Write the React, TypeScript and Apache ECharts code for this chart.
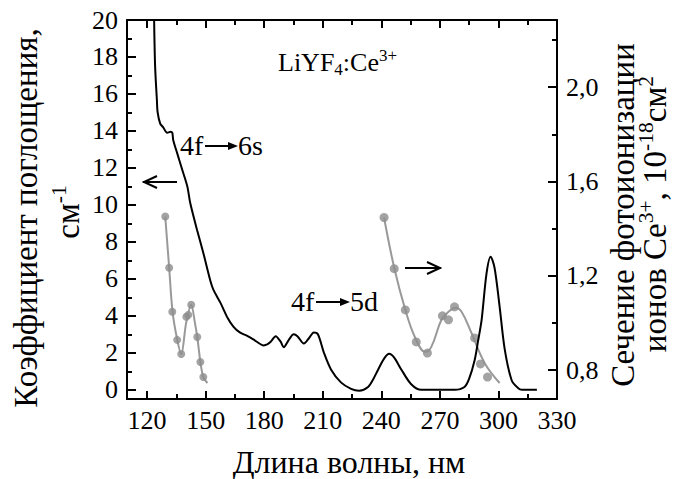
import React, { useEffect, useRef } from 'react';
import * as echarts from 'echarts';

// Absorption coefficient (left axis), cm^-1
const absWavelength = [
  123.6, 124.1, 125.0, 125.4, 126.7, 128.2, 130.3, 132.0, 132.9, 133.4, 135.4, 138.0, 140.6, 142.1,
  145.7, 148.8, 152.4, 154.0, 157.6, 161.2, 164.3, 167.5, 171.5, 175.5, 179.7, 181.5, 183.3, 185.9,
  188.4, 190.0, 192.6, 195.1, 197.0, 200.3, 203.0, 205.4, 207.5, 210.6, 214.2, 219.3, 224.5, 228.6,
  233.2, 236.0, 238.4, 241.5, 244.0, 246.5, 250.2, 255.3, 260.5, 270.0, 277.5, 282.6, 285.0, 287.8,
  289.5, 291.4, 293.9, 296.0, 298.0, 300.6, 303.2, 306.8, 310.0, 312.0, 319.7,
];
const absCoefficient = [
  20.0, 17.5, 15.7, 15.0, 14.4, 14.2, 13.9, 13.95, 13.9, 13.5, 12.8, 11.9, 11.0, 10.1,
  8.6, 7.4, 5.9, 5.4, 4.7, 3.9, 3.4, 3.1, 2.9, 2.65, 2.4, 2.45, 2.6, 2.9,
  2.6, 2.3, 2.7, 3.0, 2.9, 2.5, 2.8, 3.1, 3.0, 2.0, 1.1, 0.4, 0.05, -0.05,
  0.15, 0.6, 1.1, 1.7, 1.95, 1.75, 1.1, 0.3, 0.0, 0.0, 0.0, 0.15, 0.6, 1.6,
  2.6, 3.8, 6.3, 7.2, 6.6, 4.5, 2.2, 0.5, 0.1, 0.0, 0.0,
];

// Photoionization cross-section (right axis), 10^-18 cm^2
const vuvPointsWl = [129.3, 131.3, 132.9, 135.4, 137.5, 140.1, 141.1, 142.6, 145.7, 147.3, 148.8];
const vuvPointsSigma = [1.451, 1.234, 1.047, 0.928, 0.868, 1.026, 1.034, 1.077, 0.94, 0.834, 0.77];
const vuvFitWl = [129.3, 131.3, 133.0, 135.4, 137.5, 140.0, 142.6, 144.5, 145.7, 147.3, 148.8, 150.9];
const vuvFitSigma = [1.451, 1.234, 1.05, 0.93, 0.868, 1.0, 1.077, 1.0, 0.94, 0.834, 0.77, 0.745];

const uvPointsWl = [241.4, 246.6, 252.3, 257.9, 263.6, 271.3, 274.4, 277.5, 287.8, 290.8, 294.4];
const uvPointsSigma = [1.447, 1.23, 1.055, 0.919, 0.872, 1.03, 1.013, 1.068, 0.936, 0.826, 0.77];
const uvFitWl = [241.4, 246.6, 252.3, 257.4, 262.5, 265.6, 270.8, 274.4, 278.0, 281.1, 286.2, 292.9, 300.6];
const uvFitSigma = [1.447, 1.234, 1.055, 0.936, 0.877, 0.898, 1.013, 1.047, 1.064, 1.047, 0.957, 0.83, 0.745];

// Ticks
const xLabelTicks = [120, 150, 180, 210, 240, 270, 300, 330];
const xMinorTicks = [135, 165, 195, 225, 255, 285, 315];
const yLeftLabels = [0, 2, 4, 6, 8, 10, 12, 14, 16, 18, 20];
const yLeftMinor = [1, 3, 5, 7, 9, 11, 13, 15, 17, 19];
const yRightLabels = [0.8, 1.2, 1.6, 2.0];
const yRightMinor = [1.0, 1.4, 1.8, 2.2];

const X_MIN = 109.7;
const X_MAX = 330;
const YL_MIN = -0.5;
const YL_MAX = 20;
const YR_MIN = 0.677;
const YR_MAX = 2.285;

const FONT = 'Liberation Serif';
const BASE = 26; // render text at 26px and scale up where larger text is needed
const pair = (xs: number[], ys: number[]) => xs.map((x, i) => [x, ys[i]]);

const lineStyle = { color: '#000', width: 2 };

function xAxisDef(position: 'top' | 'bottom', ticks: number[], len: number, main: boolean, labels: boolean) {
  return {
    type: 'value',
    position,
    min: X_MIN,
    max: X_MAX,
    axisLine: { show: main, onZero: false, lineStyle },
    axisTick: { show: true, inside: true, length: len, customValues: ticks, lineStyle },
    axisLabel: labels
      ? { show: true, customValues: ticks, color: '#000', fontSize: BASE, fontFamily: FONT, margin: 8 }
      : { show: false },
    splitLine: { show: false },
  };
}

function yAxisDef(
  position: 'left' | 'right',
  min: number,
  max: number,
  ticks: number[],
  len: number,
  main: boolean,
  labels: boolean,
  fmt?: (v: number) => string
) {
  return {
    type: 'value',
    position,
    min,
    max,
    axisLine: { show: main, onZero: false, lineStyle },
    axisTick: { show: true, inside: true, length: len, customValues: ticks, lineStyle },
    axisLabel: labels
      ? {
          show: true,
          customValues: ticks,
          color: '#000',
          fontSize: BASE,
          fontFamily: FONT,
          margin: 9,
          formatter: fmt,
        }
      : { show: false },
    splitLine: { show: false },
  };
}

const txt = (size: number) => ({ fontSize: size, fontFamily: FONT, fill: '#000' });

// rich-text style at base size; plain parts {a|..}, superscripts {sup|..}, subscripts {sub|..}
const richStyle = (text: string, small: number, shift: number, extra: object = {}) => ({
  text,
  ...txt(BASE),
  ...extra,
  rich: {
    a: txt(BASE),
    sup: { ...txt(small), padding: [0, 0, shift, 0] },
    sub: { ...txt(small), padding: [shift, 0, 0, 0] },
  },
});

// graphic text element drawn at base size and scaled to the target size
const label = (x: number, y: number, size: number, style: object, rotation = 0) => ({
  type: 'text',
  x,
  y,
  rotation,
  scaleX: size / BASE,
  scaleY: size / BASE,
  style,
});

export default function App() {
  const ref = useRef<HTMLDivElement>(null);

  useEffect(() => {
    if (!ref.current) return;
    const chart = echarts.init(ref.current, undefined, { renderer: 'svg' });

    const arrowFilled = (x1: number, x2: number, y: number) => [
      { type: 'line', shape: { x1, y1: y, x2: x2 - 8, y2: y }, style: { stroke: '#000', lineWidth: 2 } },
      {
        type: 'polygon',
        shape: { points: [[x2 - 10, y - 4], [x2, y], [x2 - 10, y + 4]] },
        style: { fill: '#000' },
      },
    ];

    const center = { align: 'center', verticalAlign: 'middle' };
    const leftMid = { align: 'left', verticalAlign: 'middle' };
    const up = Math.PI / 2;

    chart.setOption({
      animation: false,
      backgroundColor: '#fff',
      textStyle: { fontFamily: FONT },
      grid: { left: 127, right: 126, top: 20, bottom: 80, containLabel: false },
      xAxis: [
        xAxisDef('bottom', xLabelTicks, 8, true, true),
        xAxisDef('bottom', xMinorTicks, 5, false, false),
        xAxisDef('top', xLabelTicks, 8, true, false),
        xAxisDef('top', xMinorTicks, 5, false, false),
      ],
      yAxis: [
        yAxisDef('left', YL_MIN, YL_MAX, yLeftLabels, 9, true, true, (v: number) => String(v)),
        yAxisDef('right', YR_MIN, YR_MAX, yRightLabels, 9, true, true, (v: number) =>
          v.toFixed(1).replace('.', ',')
        ),
        yAxisDef('left', YL_MIN, YL_MAX, yLeftMinor, 5, false, false),
        yAxisDef('right', YR_MIN, YR_MAX, yRightMinor, 5, false, false),
      ],
      series: [
        {
          type: 'line',
          xAxisIndex: 0,
          yAxisIndex: 0,
          data: pair(absWavelength, absCoefficient),
          showSymbol: false,
          smooth: 0.3,
          lineStyle: { color: '#000', width: 2 },
          z: 3,
        },
        {
          type: 'line',
          xAxisIndex: 0,
          yAxisIndex: 1,
          data: pair(vuvFitWl, vuvFitSigma),
          showSymbol: false,
          smooth: 0.3,
          lineStyle: { color: '#999', width: 2 },
          z: 2,
        },
        {
          type: 'line',
          xAxisIndex: 0,
          yAxisIndex: 1,
          data: pair(uvFitWl, uvFitSigma),
          showSymbol: false,
          smooth: 0.4,
          lineStyle: { color: '#999', width: 2 },
          z: 2,
        },
        {
          type: 'scatter',
          xAxisIndex: 0,
          yAxisIndex: 1,
          data: pair(vuvPointsWl, vuvPointsSigma),
          symbolSize: 8,
          itemStyle: { color: '#8c8c8c' },
          z: 2,
        },
        {
          type: 'scatter',
          xAxisIndex: 0,
          yAxisIndex: 1,
          data: pair(uvPointsWl, uvPointsSigma),
          symbolSize: 9,
          itemStyle: { color: '#8c8c8c' },
          z: 2,
        },
      ],
      graphic: [
        // Left axis title
        label(26, 218, 33, richStyle('{a|Коэффициент поглощения,}', 17, 14, center), up),
        label(68, 212, 33, richStyle('{a|см}{sup|-1}', 17, 14, center), up),
        // Right axis title
        label(623, 215, 33, richStyle('{a|Сечение фотоионизации}', 17, 14, center), up),
        label(
          655,
          214,
          33,
          richStyle('{a|ионов Ce}{sup|3+}{a|, 10}{sup|-18}{a|см}{sup|2}', 17, 14, center),
          up
        ),
        // X axis title
        label(349, 462, 32, richStyle('{a|Длина волны, нм}', 17, 14, center)),
        // Sample label
        label(278, 62, 26, richStyle('{a|LiYF}{sub|4}{a|:Ce}{sup|3+}', 17, 14, leftMid)),
        // 4f -> 6s
        label(180, 145, 28, richStyle('{a|4f}', 17, 14, leftMid)),
        ...arrowFilled(205, 238, 146),
        label(238, 145, 28, richStyle('{a|6s}', 17, 14, leftMid)),
        // 4f -> 5d
        label(291, 301, 28, richStyle('{a|4f}', 17, 14, leftMid)),
        ...arrowFilled(316, 350, 302),
        label(350, 301, 28, richStyle('{a|5d}', 17, 14, leftMid)),
        // Left-pointing arrow (to left axis)
        { type: 'line', shape: { x1: 143, y1: 182, x2: 177, y2: 182 }, style: { stroke: '#000', lineWidth: 2 } },
        {
          type: 'polyline',
          shape: { points: [[157, 176], [144, 182], [157, 188]] },
          style: { stroke: '#000', lineWidth: 2, fill: 'none' },
        },
        // Right-pointing arrow (to right axis)
        { type: 'line', shape: { x1: 405, y1: 268, x2: 441, y2: 268 }, style: { stroke: '#000', lineWidth: 2 } },
        {
          type: 'polyline',
          shape: { points: [[427, 262], [440, 268], [427, 274]] },
          style: { stroke: '#000', lineWidth: 2, fill: 'none' },
        },
      ],
    });

    return () => chart.dispose();
  }, []);

  return (
    <div
      ref={ref}
      style={{ position: 'fixed', left: 0, top: 0, width: 683, height: 479, background: '#fff' }}
    />
  );
}
